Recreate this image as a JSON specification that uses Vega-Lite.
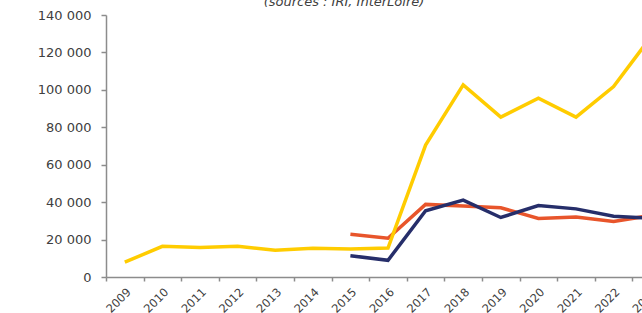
{
  "$schema": "https://vega.github.io/schema/vega-lite/v6.json",
  "width": 536,
  "height": 262,
  "autosize": {"type": "none"},
  "padding": {"left": 106, "top": 15, "right": 0, "bottom": 36},
  "background": "white",
  "title": {
    "text": "(sources : IRI, InterLoire)",
    "font": "DejaVu Sans",
    "fontSize": 13,
    "fontStyle": "italic",
    "fontWeight": "normal",
    "color": "#404040",
    "anchor": "middle",
    "frame": "group",
    "dx": -30,
    "dy": 10,
    "baseline": "alphabetic",
    "offset": 0
  },
  "data": {
    "values": [
      {"year": "2009", "series": "Jaune", "value": 7900},
      {"year": "2010", "series": "Jaune", "value": 16400},
      {"year": "2011", "series": "Jaune", "value": 15700},
      {"year": "2012", "series": "Jaune", "value": 16400},
      {"year": "2013", "series": "Jaune", "value": 14300},
      {"year": "2014", "series": "Jaune", "value": 15400},
      {"year": "2015", "series": "Jaune", "value": 14900},
      {"year": "2016", "series": "Jaune", "value": 15500},
      {"year": "2017", "series": "Jaune", "value": 70500},
      {"year": "2018", "series": "Jaune", "value": 102700},
      {"year": "2019", "series": "Jaune", "value": 85400},
      {"year": "2020", "series": "Jaune", "value": 95500},
      {"year": "2021", "series": "Jaune", "value": 85400},
      {"year": "2022", "series": "Jaune", "value": 101800},
      {"year": "2023", "series": "Jaune", "value": 128500},
      {"year": "2015", "series": "Orange", "value": 22900},
      {"year": "2016", "series": "Orange", "value": 20700},
      {"year": "2017", "series": "Orange", "value": 38800},
      {"year": "2018", "series": "Orange", "value": 38000},
      {"year": "2019", "series": "Orange", "value": 37000},
      {"year": "2020", "series": "Orange", "value": 31300},
      {"year": "2021", "series": "Orange", "value": 32100},
      {"year": "2022", "series": "Orange", "value": 29700},
      {"year": "2023", "series": "Orange", "value": 32900},
      {"year": "2015", "series": "Bleu", "value": 11400},
      {"year": "2016", "series": "Bleu", "value": 8900},
      {"year": "2017", "series": "Bleu", "value": 35400},
      {"year": "2018", "series": "Bleu", "value": 41100},
      {"year": "2019", "series": "Bleu", "value": 31800},
      {"year": "2020", "series": "Bleu", "value": 38200},
      {"year": "2021", "series": "Bleu", "value": 36400},
      {"year": "2022", "series": "Bleu", "value": 32500},
      {"year": "2023", "series": "Bleu", "value": 31400}
    ]
  },
  "encoding": {
    "x": {
      "field": "year",
      "type": "ordinal",
      "bandPosition": 0.5,
      "scale": {"type": "band", "range": [0, 564], "paddingInner": 0, "paddingOuter": 0},
      "axis": {
        "title": null,
        "tickBand": "extent",
        "labelAngle": -45,
        "labelAlign": "right",
        "labelBaseline": "top",
        "labelPadding": 5,
        "tickSize": 4,
        "domainColor": "#8c8c8c",
        "tickColor": "#8c8c8c",
        "domainWidth": 1.5,
        "tickWidth": 1.5,
        "labelFont": "DejaVu Sans",
        "labelFontSize": 11.5,
        "labelColor": "#404040",
        "grid": false
      }
    },
    "y": {
      "field": "value",
      "type": "quantitative",
      "scale": {"domain": [0, 140000], "nice": false},
      "axis": {
        "title": null,
        "values": [0, 20000, 40000, 60000, 80000, 100000, 120000, 140000],
        "labelExpr": "replace(format(datum.value, ','), regexp(',', 'g'), ' ')",
        "tickSize": 5,
        "labelPadding": 10,
        "domainColor": "#8c8c8c",
        "tickColor": "#8c8c8c",
        "domainWidth": 1.5,
        "tickWidth": 1.5,
        "labelFont": "DejaVu Sans",
        "labelFontSize": 13,
        "labelColor": "#404040",
        "grid": false
      }
    }
  },
  "layer": [
    {
      "transform": [{"filter": "datum.series == 'Orange'"}],
      "mark": {"type": "line", "color": "#E8552B", "strokeWidth": 3.5},
      "encoding": {}
    },
    {
      "transform": [{"filter": "datum.series == 'Bleu'"}],
      "mark": {"type": "line", "color": "#262E6A", "strokeWidth": 3.5},
      "encoding": {}
    },
    {
      "transform": [{"filter": "datum.series == 'Jaune'"}],
      "mark": {"type": "line", "color": "#FFCC00", "strokeWidth": 3.5},
      "encoding": {}
    }
  ],
  "config": {"view": {"stroke": null}}
}
